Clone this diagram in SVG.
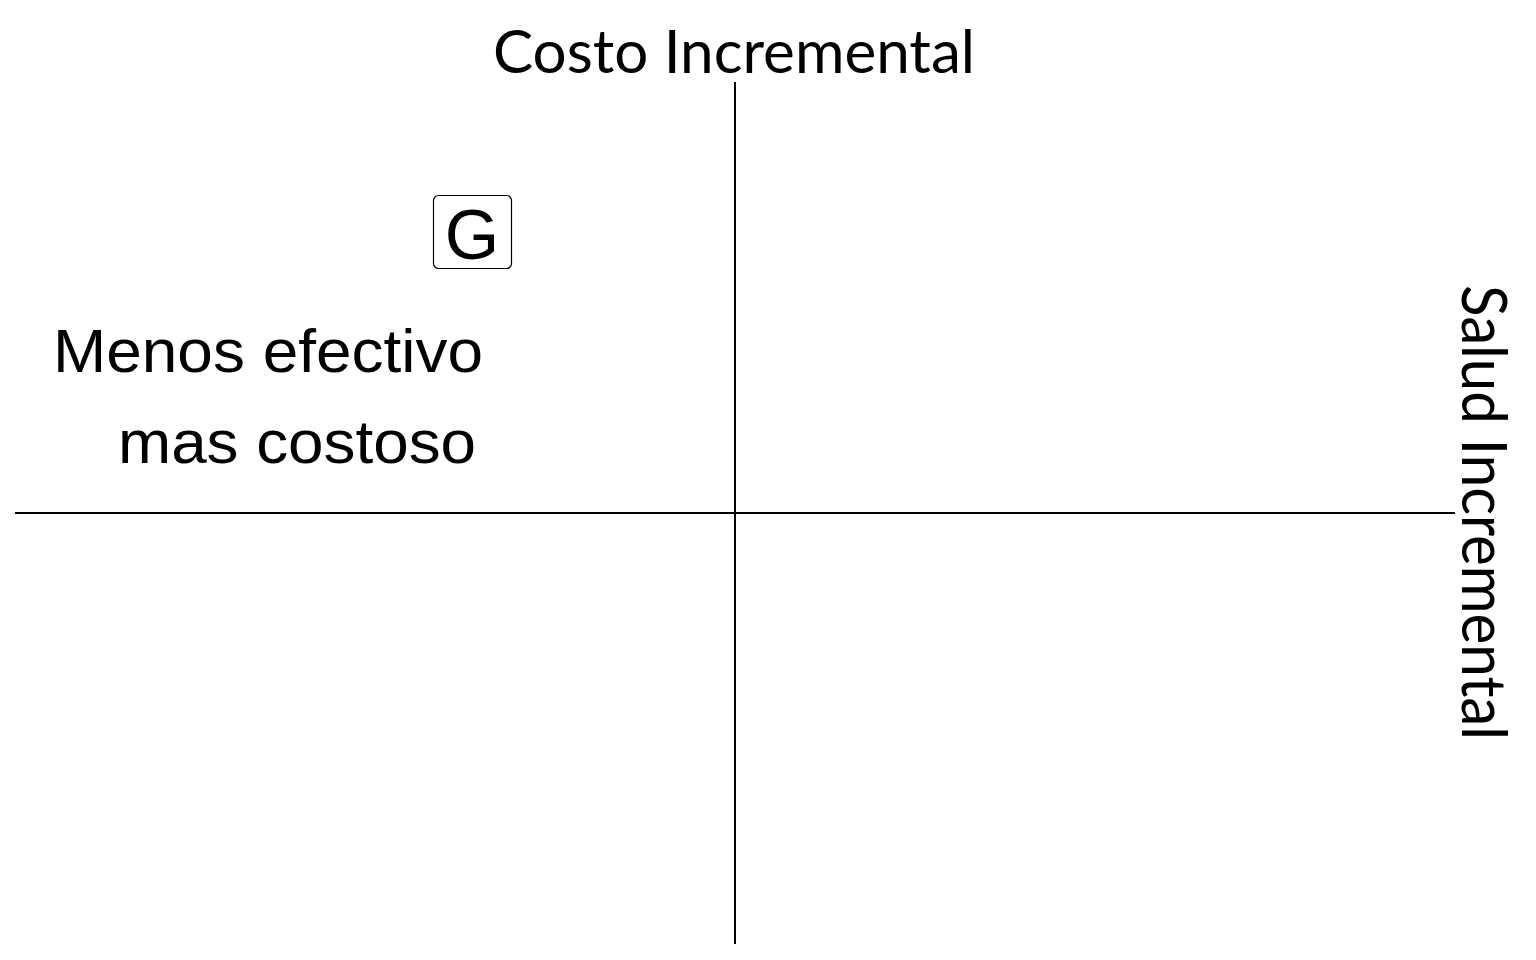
<svg xmlns="http://www.w3.org/2000/svg" width="1536" height="960" viewBox="0 0 1536 960">
<style>
.axis{stroke:#000;stroke-width:2;fill:none}
.gill{font-family:Lato,"Open Sans",sans-serif;fill:#000}
.helv{font-family:"Liberation Sans",Arial,sans-serif;fill:#000}
</style>
<rect width="1536" height="960" fill="#fff"/>
<g id="connectors">
<line class="axis" x1="735" y1="82" x2="735" y2="944"/>
<line class="axis" x1="15" y1="513" x2="1455" y2="513"/>
</g>
<g id="title-cost"><text class="gill" x="493" y="73" font-size="60" textLength="482" lengthAdjust="spacingAndGlyphs">Costo Incremental</text></g>
<g id="title-health"><text class="gill" transform="translate(1462,285) rotate(90)" font-size="62" textLength="455" lengthAdjust="spacingAndGlyphs">Salud Incremental</text></g>
<g id="node-G">
<rect x="433.5" y="195.5" width="78" height="73" rx="5" fill="#fff" stroke="#000" stroke-width="1.2"/>
<text class="helv" x="472" y="259" font-size="70" text-anchor="middle">G</text>
</g>
<g id="label-quadrant">
<text class="helv" x="53" y="372" font-size="61" textLength="430" lengthAdjust="spacingAndGlyphs">Menos efectivo</text>
<text class="helv" x="118" y="463" font-size="61" textLength="358" lengthAdjust="spacingAndGlyphs">mas costoso</text>
</g>
</svg>
